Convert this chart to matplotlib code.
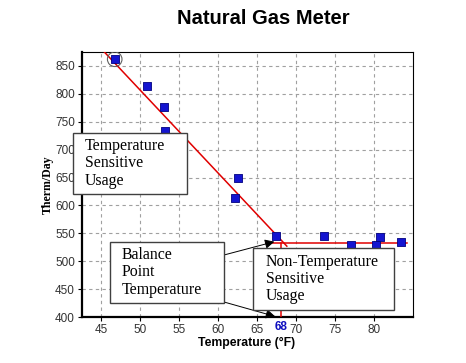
import matplotlib.pyplot as plt
from matplotlib.patches import Rectangle

# measured daily usage
temps = [46.7, 50.9, 53.0, 53.1, 62.5, 62.2, 67.4, 73.6, 77.1, 80.3, 80.7, 83.5]
therms = [862, 814, 777, 734, 650, 614, 545, 545, 529, 529, 544, 534]

# fitted lines
slope_x = [45.3, 68.8]
slope_y = [876, 527]
flat_x = [66.1, 84.2]
flat_y = [533, 533]
balance_temp = 68

xticks = [45, 50, 55, 60, 65, 70, 75, 80]
yticks = [400, 450, 500, 550, 600, 650, 700, 750, 800, 850]

W, H = 466, 363
fig = plt.figure(figsize=(W / 100, H / 100), dpi=100)
ax = fig.add_axes([82 / W, 1 - 317 / H, (413 - 82) / W, (317 - 52) / H])

ax.plot(slope_x, slope_y, color="#e00000", lw=1.1, zorder=3)
ax.plot(flat_x, flat_y, color="#e00000", lw=1.1, zorder=3)
ax.plot([balance_temp, balance_temp], [flat_y[0], 400], color="#e00000", lw=1.1, zorder=3)
ax.scatter(temps, therms, marker="s", s=26, color="#1414d0", edgecolor="#000080",
           linewidth=0.6, zorder=4)
ax.scatter(temps[:1], therms[:1], marker="o", s=110, facecolor="none",
           edgecolor="#606060", linewidth=0.8, zorder=5)

ax.set_xlim(42.5, 85)
ax.set_ylim(400, 875)
ax.set_xticks(xticks)
ax.set_yticks(yticks)
ax.set_xticks([balance_temp], minor=True)
ax.set_xticklabels(["68"], minor=True, color="#1010c0", fontweight="bold")
ax.tick_params(axis="x", which="minor", length=0, pad=3)
ax.tick_params(which="major", length=3, labelsize=8.5, labelcolor="#333333", pad=2)
for lab in ax.get_xticklabels() + ax.get_yticklabels():
    lab.set_fontfamily("Liberation Sans")
for lab in ax.get_xticklabels(minor=True):
    lab.set_fontfamily("Liberation Sans")
    lab.set_fontsize(8.5)
ax.grid(True, which="major", color="#a0a0a0", linestyle=(0, (3, 3)), lw=0.8)
for side in ["left", "bottom"]:
    ax.spines[side].set_linewidth(1.6)
for side in ["top", "right"]:
    ax.spines[side].set_linewidth(0.8)

ax.set_xlabel("Temperature (°F)", fontsize=8.8, fontweight="bold",
              fontfamily="Liberation Sans")
ax.xaxis.set_label_coords((247 - 82) / (413 - 82), -(337 - 317) / (317 - 52))
ax.set_ylabel("Therm/Day", fontsize=8.6, fontweight="bold",
              fontfamily="Liberation Serif")
ax.yaxis.set_label_coords(-(82 - 54) / (413 - 82), 0.5)
fig.text(263 / W, 1 - 19 / H, "Natural Gas Meter", ha="center", va="center",
         fontsize=14.5, fontweight="bold", fontfamily="Liberation Sans")

# annotation boxes (figure pixel coords, from top-left)
boxes = [
    ((73, 133, 187, 194), 85, "Temperature\nSensitive\nUsage"),
    ((110, 242, 224, 303), 122, "Balance\nPoint\nTemperature"),
    ((253, 248, 394, 310), 266, "Non-Temperature\nSensitive\nUsage"),
]
for (x0, y0, x1, y1), tx, txt in boxes:
    fig.patches.append(Rectangle((x0 / W, 1 - y1 / H), (x1 - x0) / W, (y1 - y0) / H,
                                 transform=fig.transFigure, facecolor="white",
                                 edgecolor="#404040", lw=1.0, zorder=10))
    fig.text(tx / W, 1 - (y0 + y1) / 2 / H, txt, ha="left", va="center",
             fontsize=11.4, fontfamily="Liberation Serif", linespacing=1.1,
             zorder=11)

arrow = dict(arrowstyle="-|>", color="black", lw=0.7, mutation_scale=14,
             shrinkA=0, shrinkB=0)
ax.annotate("", xy=(67.2, 535), xytext=(224 / W, 1 - 255 / H),
            textcoords="figure fraction", arrowprops=arrow, zorder=12)
ax.annotate("", xy=(67.3, 401), xytext=(224 / W, 1 - 302 / H),
            textcoords="figure fraction", arrowprops=arrow, zorder=12)

fig.savefig("out.png", dpi=100)
